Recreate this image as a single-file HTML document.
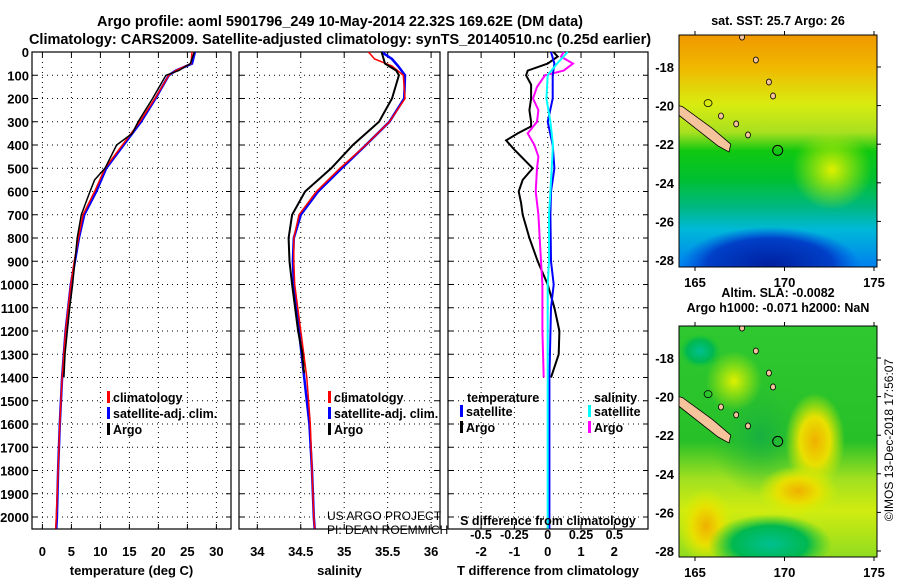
<!DOCTYPE html>
<html><head><meta charset="utf-8"><style>
html,body{margin:0;padding:0;background:#fff;}
svg{display:block;font-family:"Liberation Sans",sans-serif;font-weight:bold;}
</style></head><body>
<svg id="c" width="900" height="580" viewBox="0 0 900 580" xmlns="http://www.w3.org/2000/svg">
<defs>
<linearGradient id="sst" x1="0" y1="0" x2="0" y2="1">
<stop offset="0" stop-color="#f09800"/><stop offset="0.14" stop-color="#f0b800"/>
<stop offset="0.3" stop-color="#d8ec10"/><stop offset="0.42" stop-color="#a8e020"/>
<stop offset="0.5" stop-color="#10c810"/><stop offset="0.62" stop-color="#00c030"/>
<stop offset="0.74" stop-color="#00b880"/><stop offset="0.84" stop-color="#00b8d8"/>
<stop offset="1" stop-color="#0080f0"/></linearGradient>
<linearGradient id="sla" x1="0" y1="0" x2="0" y2="1">
<stop offset="0" stop-color="#30c830"/><stop offset="0.5" stop-color="#28c028"/>
<stop offset="0.66" stop-color="#a0e020"/><stop offset="0.8" stop-color="#d0ec10"/>
<stop offset="1" stop-color="#90dc20"/></linearGradient>
<radialGradient id="blueblob"><stop offset="0" stop-color="#0020a0"/><stop offset="0.7" stop-color="#0040c8"/><stop offset="1" stop-color="#0050e0" stop-opacity="0"/></radialGradient>
<radialGradient id="ylw"><stop offset="0" stop-color="#e0f000"/><stop offset="1" stop-color="#c8f000" stop-opacity="0"/></radialGradient>
<radialGradient id="org"><stop offset="0" stop-color="#f0b000"/><stop offset="0.5" stop-color="#e8e000"/><stop offset="1" stop-color="#d8f000" stop-opacity="0"/></radialGradient>
<radialGradient id="grn"><stop offset="0" stop-color="#00c090"/><stop offset="0.6" stop-color="#00b850"/><stop offset="1" stop-color="#20c830" stop-opacity="0"/></radialGradient>
<radialGradient id="dgrn"><stop offset="0" stop-color="#18b040"/><stop offset="1" stop-color="#28c030" stop-opacity="0"/></radialGradient>
<clipPath id="m1c"><rect x="679" y="35" width="198" height="232"/></clipPath>
<clipPath id="m2c"><rect x="679" y="326" width="198" height="231"/></clipPath>
</defs>
<text x="340" y="26" font-size="14.5" text-anchor="middle">Argo profile: aoml 5901796_249 10-May-2014 22.32S 169.62E (DM data)</text>
<text x="340" y="44" font-size="14.5" text-anchor="middle">Climatology: CARS2009. Satellite-adjusted climatology: synTS_20140510.nc (0.25d earlier)</text>
<g id="plots"></g>
<g id="maps"></g>
<text transform="translate(893,440) rotate(-90)" font-size="12" font-weight="normal" text-anchor="middle">©IMOS 13-Dec-2018 17:56:07</text>
</svg>
<script>
// ---- data ----
const tempDepthB=[0,50,80,100,200,300,400,500,600,700,800,900,1000,1200,1400,1600,1800,2000,2050];
const tempSat=[26.3,25.8,23,21.8,19.5,17,14,11,9.3,7.2,6.3,5.6,4.9,4.0,3.4,3.0,2.7,2.5,2.4];
const tempClim=[25.8,25.6,23,21.8,19.4,16.8,13.8,10.8,9.0,7.0,6.2,5.5,4.9,4.0,3.4,3.0,2.7,2.4,2.3];
const argoDepth=[0,50,80,100,200,300,350,400,500,550,600,700,800,900,1000,1100,1200,1300,1400];
const tempArgo=[26.2,25.5,23.5,21.3,19,16.5,15.5,12.8,10.8,9,8.2,6.7,6,5.6,5.2,4.7,4.3,3.9,3.7];
const salDepth=[0,30,60,100,200,300,400,500,600,700,800,900,1000,1200,1400,1600,1800,2000,2050];
const salSat=[35.43,35.55,35.62,35.7,35.69,35.52,35.25,34.97,34.7,34.5,34.42,34.41,34.42,34.48,34.54,34.6,34.63,34.65,34.66];
const salClim=[35.28,35.35,35.55,35.68,35.7,35.52,35.25,34.95,34.68,34.48,34.42,34.42,34.43,34.5,34.57,34.61,34.63,34.65,34.66];
const salArgo=[35.43,35.47,35.6,35.63,35.55,35.4,35.1,34.85,34.55,34.4,34.36,34.37,34.4,34.47,34.52,34.52,34.53,34.53,34.54];
const salArgoDepth=[0,50,80,100,200,300,400,500,600,700,800,900,1000,1200,1300,1320,1340,1360,1380];
const dDepthA=[0,20,50,80,100,140,200,250,300,320,350,380,420,500,550,600,650,700,800,900,1000,1100,1200,1300,1400];
const dTArgo=[0.17,0.3,0,-0.6,-0.65,-0.5,-0.5,-0.55,-0.5,-0.5,-0.9,-1.25,-1.0,-0.45,-0.75,-0.87,-0.8,-0.75,-0.55,-0.3,0,0.2,0.35,0.33,0.1];
const dDepthS=[0,20,50,80,100,150,200,250,300,350,400,450,500,600,700,800,900,1000,1200,1400];
const dSArgo=[0.12,0.1,0.19,0.12,-0.02,-0.08,-0.11,-0.07,-0.08,-0.15,-0.1,-0.07,-0.08,-0.09,-0.07,-0.06,-0.05,-0.04,-0.04,-0.03];
const dDepthSat=[0,50,100,200,300,400,500,600,700,900,1000,1100,1400,2000,2050];
const dTSat=[0.1,0.2,0.15,0.15,0,0.15,0.2,0.1,0.08,0.1,0.18,0.1,0.05,0.05,0.05];
const dSSat=[0.15,0.07,0,-0.01,0.02,0.04,0.03,0.02,0.01,0.01,0,0,0,0,0];
const depthTicks=[0,100,200,300,400,500,600,700,800,900,1000,1100,1200,1300,1400,1500,1600,1700,1800,1900,2000];
const tempTicks=[0,5,10,15,20,25,30];
const salTicks=[34,34.5,35,35.5,36];
const tdTicks=[-2,-1,0,1,2];
const sdTicks=[-0.5,-0.25,0,0.25,0.5];
const sdTickLabels=["-0.5","-0.25","0","0.25","0.5"];
// ---- axes ----
const NS="http://www.w3.org/2000/svg";
const TOP=52,BOT=529;
const yD=d=>TOP+d*0.2325;
const xT=t=>42.4+t*5.8;
const xS=s=>257.3+(s-34)*86.9;
const xTD=t=>547.7+t*33.3;
const xSD=s=>547.7+s*133.3;
const G=document.getElementById('plots');
function el(tag,attrs,parent,txt){const e=document.createElementNS(NS,tag);for(const k in attrs)e.setAttribute(k,attrs[k]);if(txt!==undefined)e.textContent=txt;(parent||G).appendChild(e);return e;}
function panel(x0,x1,name,ticks,xf,labels,title,showDepth){
  const g=el('g',{});
  
  
  depthTicks.forEach(d=>{
    const y=yD(d);
    const ln=el('line',{x1:x0,x2:x1,y1:y,y2:y,stroke:'#000','stroke-width':1,'stroke-dasharray':'1 4'},g);
    
    
    el('line',{x1:x0,x2:x0+5,y1:y,y2:y,stroke:'#000'},g);
    el('line',{x1:x1-5,x2:x1,y1:y,y2:y,stroke:'#000'},g);
    if(showDepth){const t=el('text',{x:29,y:y+5,'font-size':13,'text-anchor':'end'},g,String(d));
      
      }
  });
  ticks.forEach((v,i)=>{
    const x=xf(v);
    const ln=el('line',{x1:x,x2:x,y1:TOP,y2:BOT,stroke:'#000','stroke-dasharray':'1 4'},g);
    
    
    el('line',{x1:x,x2:x,y1:BOT-5,y2:BOT,stroke:'#000'},g);
    el('line',{x1:x,x2:x,y1:TOP,y2:TOP+5,stroke:'#000'},g);
    const t=el('text',{x:x,y:556,'font-size':13,'text-anchor':'middle'},g,labels[i]);
    
    
  });
  el('rect',{x:x0,y:TOP,width:x1-x0,height:BOT-TOP,fill:'none',stroke:'#000','stroke-width':1.2},g);
  const tt=el('text',{x:(x0+x1)/2,y:575,'font-size':13,'text-anchor':'middle'},g,title);
  
  
  return g;
}
function line(xs,ds,xf,color,w,name){
  const p=xs.map((v,i)=>xf(v).toFixed(1)+','+yD(ds[i]).toFixed(1)).join(' ');
  const e=el('polyline',{points:p,fill:'none',stroke:color,'stroke-width':w});
  
  
}
function legend(x,y,items){
  items.forEach((it,i)=>{
    el('rect',{x:x,y:y+i*16-11,width:3,height:12,fill:it[1]});
    const t=el('text',{x:x+6,y:y+i*16,'font-size':12.5},G,it[0]);
    
    
  });
}
panel(32,231,'temperature-panel',tempTicks,xT,tempTicks.map(String),'temperature (deg C)',true);
panel(239,440,'salinity-panel',salTicks,xS,salTicks.map(String),'salinity',false);
panel(448,648,'difference-panel',tdTicks,xTD,tdTicks.map(String),'T difference from climatology',false);
line(tempSat,tempDepthB,xT,'#0000ff',2.5,'temp-satellite-line');
line(tempClim,tempDepthB,xT,'#ff0000',1.5,'temp-climatology-line');
line(tempArgo,argoDepth,xT,'#000',1.5,'temp-argo-line');
line(salSat,salDepth,xS,'#0000ff',2.5,'sal-satellite-line');
line(salClim,salDepth,xS,'#ff0000',1.5,'sal-climatology-line');
line(salArgo,salArgoDepth,xS,'#000',2,'sal-argo-line');
line(dTArgo,dDepthA,xTD,'#000',2,'tdiff-argo-line');
line(dSArgo,dDepthS,xSD,'#ff00ff',2,'sdiff-argo-line');
line(dTSat,dDepthSat,xTD,'#0000ff',2,'tdiff-satellite-line');
line(dSSat,dDepthSat,xSD,'#00ffff',2,'sdiff-satellite-line');
legend(107,402,[['climatology','#ff0000'],['satellite-adj. clim.','#0000ff'],['Argo','#000']]);
legend(328,402,[['climatology','#ff0000'],['satellite-adj. clim.','#0000ff'],['Argo','#000']]);
el('text',{x:467,y:402,'font-size':12.5},G,'temperature');
el('text',{x:594,y:402,'font-size':12.5},G,'salinity');
legend(460,416,[['satellite','#0000ff'],['Argo','#000']]);
legend(588,416,[['satellite','#00ffff'],['Argo','#ff00ff']]);
el('text',{x:548,y:525,'font-size':12.5,'text-anchor':'middle'},G,'S difference from climatology');
sdTicks.forEach((v,i)=>{const t=el('text',{x:xSD(v),y:539,'font-size':12.5,'text-anchor':'middle'},G,sdTickLabels[i]);
  
  });
el('text',{x:327,y:520,'font-size':12,'font-weight':'normal'},G,'US ARGO PROJECT');
el('text',{x:327,y:534,'font-size':12,'font-weight':'normal'},G,'PI: DEAN ROEMMICH');
// ---- maps ----
const M=document.getElementById('maps');
const lonTicks=[165,170,175];
const latTicks=[-18,-20,-22,-24,-26,-28];
const islandLon=[167.63,168.4,169.13,169.36,167.3,167.96,166.45];
const islandLat=[-16.45,-17.64,-18.78,-19.5,-20.95,-21.52,-20.54];
function map(y0,y1,lat18,lat28,name,kind,titles){
  const g=el('g',{},M);
  
  
  const ly=l=>lat18+(l+18)/(-10)*(lat28-lat18);
  const lx=l=>695+(l-165)*17.9;
  const inner=el('g',{'clip-path':kind==1?'url(#m1c)':'url(#m2c)'},g);
  if(kind==1){
    el('rect',{x:679,y:y0,width:198,height:y1-y0,fill:'url(#sst)'},inner);
    el('ellipse',{cx:832,cy:y0+135,rx:40,ry:40,fill:'url(#ylw)'},inner);
    el('ellipse',{cx:770,cy:y0+230,rx:90,ry:38,fill:'url(#blueblob)'},inner);
  } else {
    el('rect',{x:679,y:y0,width:198,height:y1-y0,fill:'url(#sla)'},inner);
    el('ellipse',{cx:760,cy:y0+110,rx:50,ry:60,fill:'url(#dgrn)'},inner);
    el('ellipse',{cx:734,cy:y0+55,rx:28,ry:30,fill:'url(#ylw)'},inner);
    el('ellipse',{cx:815,cy:y0+115,rx:30,ry:48,fill:'url(#org)'},inner);
    el('ellipse',{cx:798,cy:y0+165,rx:40,ry:25,fill:'url(#org)'},inner);
    el('ellipse',{cx:706,cy:y0+200,rx:28,ry:38,fill:'url(#org)'},inner);
    el('ellipse',{cx:770,cy:y0+218,rx:62,ry:30,fill:'url(#grn)'},inner);
    el('ellipse',{cx:700,cy:y0+25,rx:22,ry:18,fill:'url(#grn)'},inner);
  }
  el('polygon',{points:`${lx(164.1)},${ly(-20)} ${lx(164.3)},${ly(-20.05)} ${lx(166)},${ly(-21.2)} ${lx(167)},${ly(-22.0)} ${lx(166.9)},${ly(-22.4)} ${lx(166.3)},${ly(-22.1)} ${lx(164.1)},${ly(-20.5)}`,fill:'#f5c49c',stroke:'#000','stroke-width':0.8},inner);
  islandLon.forEach((lo,i)=>el('ellipse',{cx:lx(lo),cy:ly(islandLat[i]),rx:2.5,ry:3,fill:'#f5c49c',stroke:'#000','stroke-width':0.8},inner));
  el('ellipse',{cx:lx(165.73),cy:ly(-19.87),rx:4,ry:3.5,fill:'none',stroke:'#000','stroke-width':0.8},inner);
  el('circle',{cx:lx(169.62),cy:ly(-22.32),r:5,fill:'none',stroke:'#000'},inner);
  el('rect',{x:679,y:y0,width:198,height:y1-y0,fill:'none',stroke:'#000'},g);
  lonTicks.forEach(l=>{const x=lx(l);el('line',{x1:x,x2:x,y1:y0-4,y2:y0,stroke:'#000'},g);el('line',{x1:x,x2:x,y1:y1,y2:y1+4,stroke:'#000'},g);
    el('text',{x:x,y:y1+20,'font-size':13,'text-anchor':'middle'},g,String(l));});
  latTicks.forEach(l=>{const y=ly(l);el('line',{x1:877,x2:881,y1:y,y2:y,stroke:'#000'},g);
    el('text',{x:674,y:y+5,'font-size':13,'text-anchor':'end'},g,String(l));});
  titles.forEach((t,i)=>el('text',{x:778,y:(kind==1?25:y0-29)+i*15,'font-size':12.5,'text-anchor':'middle'},g,t));
}
map(35,267,67,260,'sst-map',1,['sat. SST: 25.7 Argo: 26']);
map(326,557,358,551,'sla-map',2,['Altim. SLA: -0.0082','Argo h1000: -0.071 h2000: NaN']);
</script>
</body></html>
